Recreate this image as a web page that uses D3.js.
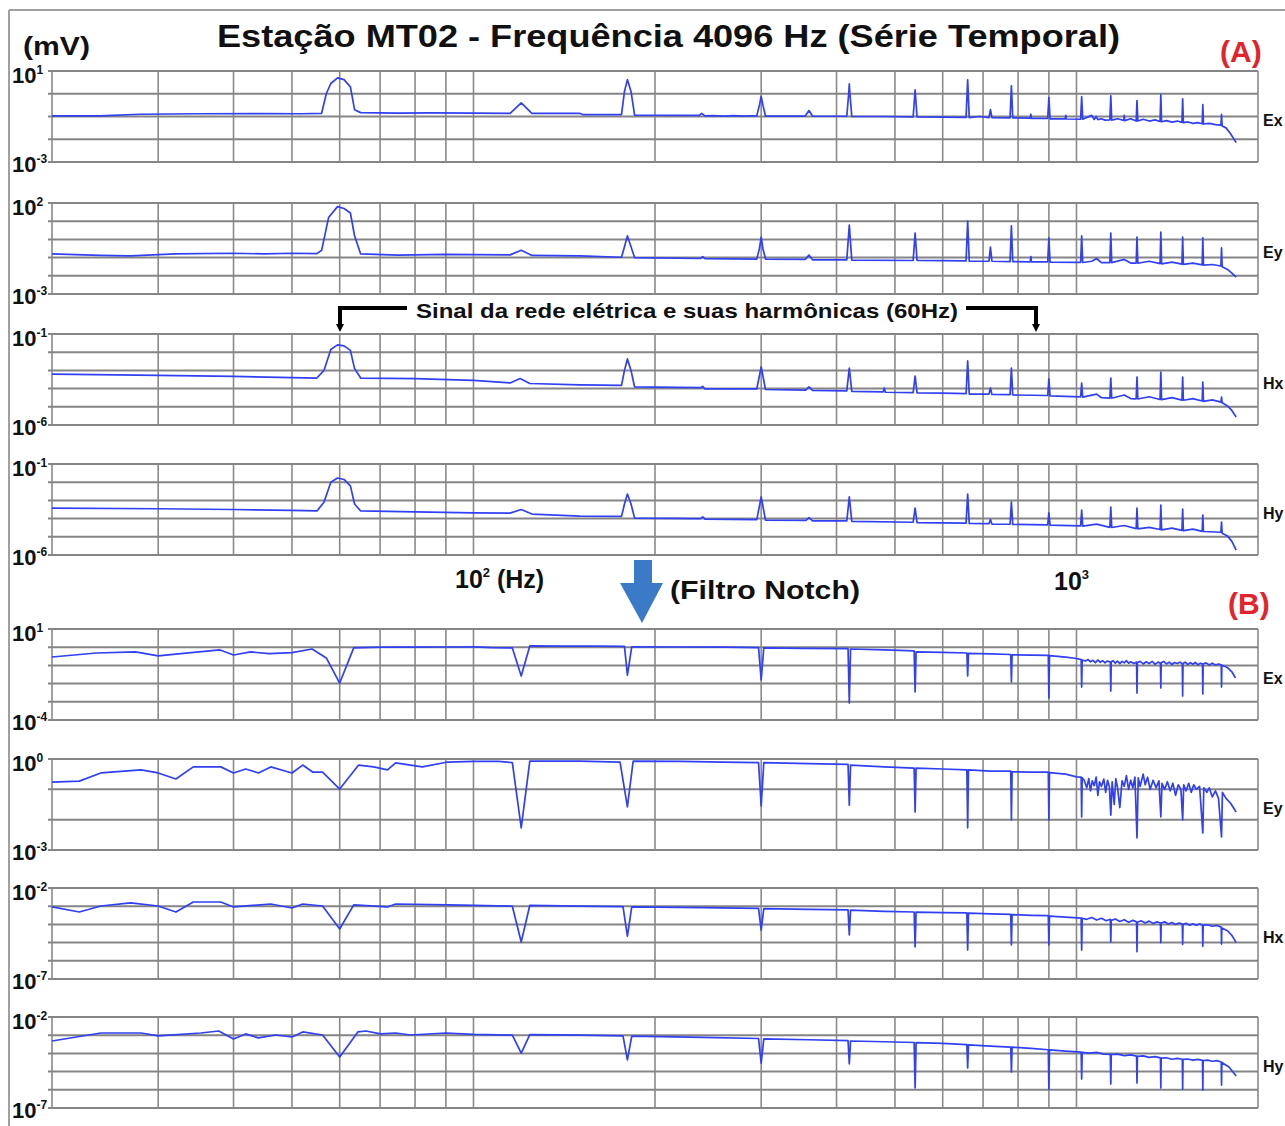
<!DOCTYPE html>
<html lang="pt">
<head>
<meta charset="UTF-8">
<title>Estação MT02 - Frequência 4096 Hz</title>
<script src="https://d3js.org/d3.v7.min.js"></script>
<style>
  body { margin: 0; background: #fff; }
  svg { display: block; font-family: "Liberation Sans", Arial, sans-serif; }
  .grid-h { stroke: #858585; stroke-width: 2; }
  .grid-v { stroke: #8a8a8a; stroke-width: 1.6; }
  .spec { fill: none; stroke: #3040f2; stroke-width: 1.7; stroke-linejoin: round; }
  .lbl { font-weight: bold; fill: #111; }
</style>
</head>
<body>
<svg width="1285" height="1126"></svg>
<script>
// grid frequencies (Hz) and axis range
const freqRange = [20, 2000];
const gridFreqs = [30, 40, 50, 60, 70, 80, 90, 100, 200, 300, 400, 500, 600, 700, 800, 900, 1000];

// spectra: [frequency Hz, log10 amplitude]
// (A) raw series
const exA = [[20,-0.97],[24,-0.97],[28,-0.90],[35,-0.88],[45,-0.87],[52,-0.88],[56,-0.86],[57,0.0],[58,0.45],[59.5,0.70],[61,0.62],[62.5,0.30],[63.5,-0.70],[65,-0.83],[75,-0.85],[85,-0.84],[100,-0.85],[115,-0.86],[120,-0.40],[125,-0.86],[150,-0.86],[152,-0.92],[176,-0.92],[178,0.1],[180,0.62],[182.5,0.1],[185,-0.94],[237,-0.95],[239,-0.86],[242,-0.97],[250,-0.96],[260,-0.98],[270,-0.96],[280,-0.98],[295,-0.96],[298,-0.5],[300,-0.12],[302,-0.5],[305,-0.98],[355,-0.98],[360,-0.74],[365,-0.98],[416,-0.99],[419,0.0],[420,0.43],[421,0.0],[424,-1.0],[480,-1.0],[536,-1.02],[540,0.17],[544,-1.02],[600,-1.03],[656,-1.04],[660,0.61],[664,-1.05],[690,-1.0],[716,-1.05],[720,-0.70],[724,-1.05],[776,-1.06],[780,0.35],[784,-1.06],[838,-1.07],[840,-0.9],[842,-1.08],[896,-1.08],[900,-0.17],[904,-1.1],[958,-1.1],[960,-0.95],[962,-1.11],[1016,-1.12],[1020,-0.13],[1024,-1.12],[1060,-0.95],[1070,-1.13],[1078,-1.0],[1085,-1.14],[1100,-1.1],[1115,-1.16],[1136,-1.15],[1140,-0.09],[1144,-1.16],[1170,-1.1],[1198,-1.17],[1200,-0.95],[1202,-1.18],[1230,-1.1],[1256,-1.2],[1260,-0.30],[1264,-1.2],[1290,-1.12],[1320,-1.2],[1350,-1.15],[1376,-1.22],[1380,-0.04],[1384,-1.23],[1410,-1.18],[1440,-1.25],[1470,-1.2],[1496,-1.26],[1500,-0.22],[1504,-1.27],[1530,-1.24],[1560,-1.3],[1590,-1.27],[1616,-1.32],[1620,-0.48],[1624,-1.33],[1660,-1.3],[1700,-1.36],[1736,-1.38],[1740,-0.91],[1744,-1.42],[1770,-1.5],[1800,-1.75],[1840,-2.15]];
const eyA = [[20,-0.80],[24,-0.88],[27,-0.91],[32,-0.80],[40,-0.76],[45,-0.80],[50,-0.76],[55,-0.78],[56,-0.6],[57.5,1.2],[59.5,1.80],[61,1.7],[62.5,1.45],[63.5,0.2],[65,-0.80],[75,-0.86],[90,-0.82],[100,-0.84],[115,-0.85],[120,-0.60],[125,-0.88],[150,-0.9],[176,-0.98],[178,-0.4],[180,0.19],[182.5,-0.4],[185,-1.0],[238,-1.05],[240,-0.95],[242,-1.06],[295,-1.08],[298,-0.5],[300,0.13],[302,-0.5],[305,-1.08],[355,-1.1],[360,-0.86],[365,-1.12],[416,-1.13],[420,0.79],[424,-1.14],[536,-1.16],[540,0.35],[544,-1.16],[600,-1.17],[656,-1.18],[660,1.01],[664,-1.2],[716,-1.2],[720,-0.42],[724,-1.2],[776,-1.22],[780,0.74],[784,-1.22],[838,-1.23],[840,-0.95],[842,-1.24],[896,-1.24],[900,0.08],[904,-1.25],[1016,-1.26],[1020,0.19],[1024,-1.27],[1060,-1.2],[1080,-1.05],[1100,-1.28],[1136,-1.28],[1140,0.35],[1144,-1.28],[1200,-1.1],[1230,-1.3],[1256,-1.3],[1260,0.13],[1264,-1.31],[1320,-1.2],[1376,-1.33],[1380,0.40],[1384,-1.34],[1440,-1.25],[1496,-1.36],[1500,0.13],[1504,-1.37],[1560,-1.3],[1616,-1.40],[1620,0.08],[1624,-1.41],[1680,-1.38],[1736,-1.46],[1740,-0.47],[1744,-1.5],[1780,-1.65],[1810,-1.85],[1840,-2.07]];
const hxA = [[20,-3.2],[30,-3.27],[40,-3.33],[50,-3.40],[55,-3.42],[56.5,-3.0],[58,-1.85],[59.5,-1.60],[61,-1.65],[62.5,-1.9],[63.5,-2.9],[65,-3.42],[80,-3.45],[100,-3.55],[115,-3.69],[119.5,-3.45],[124,-3.72],[150,-3.80],[176,-3.82],[178,-3.0],[180,-2.37],[182.5,-3.0],[185,-3.91],[238,-3.95],[240,-3.88],[242,-4.02],[295,-4.02],[300,-2.81],[305,-4.05],[356,-4.08],[360,-3.90],[365,-4.10],[416,-4.12],[420,-2.87],[424,-4.15],[478,-4.18],[480,-3.97],[482,-4.2],[536,-4.22],[540,-3.31],[544,-4.23],[600,-4.25],[656,-4.28],[660,-2.48],[664,-4.3],[716,-4.3],[720,-3.97],[724,-4.32],[776,-4.33],[780,-2.87],[784,-4.35],[896,-4.38],[900,-3.47],[904,-4.4],[1016,-4.45],[1020,-3.7],[1024,-4.47],[1080,-4.3],[1100,-4.5],[1136,-4.52],[1140,-3.42],[1144,-4.53],[1200,-4.35],[1230,-4.55],[1256,-4.56],[1260,-3.37],[1264,-4.57],[1320,-4.45],[1376,-4.6],[1380,-3.1],[1384,-4.61],[1440,-4.5],[1496,-4.63],[1500,-3.37],[1504,-4.64],[1560,-4.55],[1616,-4.68],[1620,-3.64],[1624,-4.7],[1680,-4.62],[1736,-4.74],[1740,-4.47],[1744,-4.78],[1780,-4.95],[1810,-5.2],[1840,-5.56]];
const hyA = [[20,-3.42],[30,-3.46],[40,-3.50],[50,-3.55],[55,-3.58],[56.5,-3.1],[58,-2.0],[59.5,-1.77],[61,-1.85],[62.5,-2.2],[63.5,-3.2],[65,-3.58],[80,-3.63],[100,-3.69],[115,-3.70],[120,-3.50],[125,-3.75],[150,-3.86],[176,-3.88],[178,-3.2],[180,-2.65],[182.5,-3.2],[185,-3.97],[238,-4.0],[240,-3.9],[242,-4.03],[295,-4.06],[300,-2.81],[305,-4.08],[356,-4.1],[360,-3.95],[365,-4.12],[416,-4.13],[420,-2.81],[424,-4.15],[536,-4.2],[540,-3.42],[544,-4.22],[656,-4.25],[660,-2.65],[664,-4.27],[716,-4.28],[720,-4.05],[724,-4.3],[776,-4.31],[780,-3.09],[784,-4.32],[896,-4.34],[900,-3.69],[904,-4.36],[1016,-4.4],[1020,-3.53],[1024,-4.41],[1080,-4.3],[1136,-4.48],[1140,-3.37],[1144,-4.49],[1200,-4.38],[1256,-4.55],[1260,-3.42],[1264,-4.56],[1320,-4.48],[1376,-4.6],[1380,-3.26],[1384,-4.62],[1440,-4.52],[1496,-4.65],[1500,-3.48],[1504,-4.66],[1560,-4.58],[1616,-4.7],[1620,-3.81],[1624,-4.71],[1736,-4.75],[1740,-4.19],[1744,-4.8],[1780,-4.95],[1810,-5.25],[1840,-5.73]];

// (B) after notch filter
const exB = [[20,-0.54],[23.7,-0.32],[27.5,-0.26],[30,-0.48],[34,-0.30],[38,-0.15],[40,-0.43],[42.7,-0.26],[45.8,-0.35],[50,-0.30],[54,-0.10],[57,-0.59],[60,-1.97],[63.3,-0.04],[68,-0.01],[73.7,0.01],[80,0.0],[90,0.01],[100,0.02],[107,-0.02],[116,-0.04],[120,-1.58],[124,0.07],[140,0.06],[160,0.06],[178,0.05],[180,-1.53],[183,0.02],[220,0.01],[260,0.0],[297,-0.02],[300,-1.80],[303,-0.04],[350,-0.06],[418,-0.08],[420,-3.07],[422,-0.10],[480,-0.15],[538,-0.20],[540,-2.46],[542,-0.26],[600,-0.28],[658,-0.32],[660,-1.58],[662,-0.34],[720,-0.37],[778,-0.40],[780,-1.91],[782,-0.42],[840,-0.43],[898,-0.45],[900,-2.79],[902,-0.46],[960,-0.55],[1000,-0.62],[1018,-0.68],[1020,-2.19],[1022,-0.70],[1035,-0.76],[1045,-0.68],[1055,-0.80],[1065,-0.72],[1075,-0.85],[1085,-0.70],[1095,-0.83],[1105,-0.74],[1115,-0.86],[1125,-0.76],[1138,-0.82],[1140,-2.41],[1142,-0.80],[1150,-0.74],[1160,-0.88],[1170,-0.76],[1180,-0.90],[1190,-0.78],[1200,-0.86],[1210,-0.74],[1220,-0.88],[1230,-0.80],[1245,-0.9],[1258,-0.82],[1260,-2.52],[1262,-0.84],[1275,-0.78],[1290,-0.92],[1305,-0.80],[1320,-0.9],[1335,-0.78],[1350,-0.94],[1365,-0.82],[1378,-0.88],[1380,-2.24],[1382,-0.86],[1395,-0.78],[1410,-0.92],[1425,-0.82],[1440,-0.95],[1455,-0.84],[1470,-0.9],[1485,-0.82],[1498,-0.92],[1500,-2.68],[1502,-0.9],[1515,-0.82],[1530,-0.96],[1545,-0.85],[1560,-0.94],[1575,-0.84],[1590,-0.97],[1605,-0.88],[1618,-0.92],[1620,-2.57],[1622,-0.92],[1640,-0.86],[1660,-0.98],[1680,-0.88],[1700,-0.98],[1720,-0.92],[1738,-0.97],[1740,-2.19],[1742,-1.0],[1760,-1.05],[1780,-1.12],[1810,-1.35],[1835,-1.69]];
const eyB = [[20,-0.76],[22.2,-0.73],[24.1,-0.46],[28.1,-0.36],[30,-0.46],[32.1,-0.66],[34.3,-0.26],[38.1,-0.26],[40,-0.46],[41.9,-0.33],[44,-0.46],[46.1,-0.26],[50,-0.46],[52.1,-0.20],[54.1,-0.43],[56.2,-0.43],[60,-0.99],[64.5,-0.20],[68.3,-0.26],[72,-0.36],[74.3,-0.13],[78.6,-0.20],[82.3,-0.26],[90.6,-0.10],[100,-0.08],[110,-0.08],[116,-0.12],[120,-2.27],[124,-0.07],[150,-0.07],[175,-0.10],[180,-1.58],[184,-0.07],[220,-0.08],[260,-0.1],[297,-0.12],[300,-1.55],[303,-0.12],[360,-0.15],[418,-0.18],[420,-1.52],[422,-0.2],[480,-0.26],[538,-0.3],[540,-1.75],[542,-0.3],[600,-0.33],[658,-0.36],[660,-2.27],[662,-0.36],[720,-0.40],[778,-0.4],[780,-2.01],[782,-0.42],[840,-0.43],[898,-0.43],[900,-2.01],[902,-0.45],[960,-0.5],[1000,-0.59],[1018,-0.6],[1020,-1.91],[1022,-0.62],[1030,-0.70],[1040,-0.95],[1048,-0.65],[1055,-1.05],[1062,-0.72],[1070,-0.88],[1078,-0.60],[1085,-1.2],[1092,-0.75],[1100,-0.9],[1110,-0.66],[1118,-1.1],[1126,-0.70],[1134,-0.92],[1140,-1.85],[1146,-0.75],[1155,-1.5],[1162,-0.65],[1170,-0.95],[1180,-1.6],[1190,-0.72],[1200,-0.9],[1210,-0.55],[1220,-1.0],[1230,-0.7],[1240,-0.95],[1250,-0.6],[1260,-2.6],[1266,-0.62],[1275,-0.9],[1290,-0.5],[1300,-0.85],[1312,-0.6],[1325,-1.0],[1340,-0.7],[1355,-0.95],[1370,-0.72],[1380,-1.91],[1386,-0.8],[1400,-1.0],[1415,-0.75],[1430,-1.05],[1445,-0.8],[1460,-1.2],[1475,-0.85],[1490,-1.0],[1500,-2.01],[1506,-0.85],[1520,-1.05],[1535,-0.8],[1550,-1.1],[1565,-0.85],[1580,-1.0],[1600,-0.9],[1620,-2.44],[1626,-0.95],[1645,-1.1],[1660,-0.95],[1680,-1.25],[1700,-1.05],[1720,-1.3],[1740,-2.57],[1746,-1.1],[1770,-1.3],[1800,-1.45],[1820,-1.6],[1840,-1.75]];
const hxB = [[20,-3.04],[22.2,-3.32],[24.1,-2.99],[27,-2.82],[30,-2.99],[32.1,-3.32],[34.3,-2.77],[38.1,-2.77],[40,-3.04],[46.1,-2.88],[50,-3.10],[52.1,-2.88],[56.2,-2.99],[60,-4.25],[63.3,-2.93],[72,-3.04],[74.3,-2.88],[90.6,-2.93],[100,-2.95],[116,-3.0],[120,-4.97],[124,-2.95],[150,-3.0],[177,-3.02],[180,-4.64],[183,-3.04],[240,-3.08],[297,-3.12],[300,-4.31],[303,-3.13],[360,-3.17],[418,-3.2],[420,-4.58],[422,-3.22],[480,-3.28],[538,-3.32],[540,-5.24],[542,-3.33],[600,-3.35],[658,-3.37],[660,-5.41],[662,-3.38],[720,-3.42],[778,-3.45],[780,-5.13],[782,-3.46],[840,-3.5],[898,-3.52],[900,-5.13],[902,-3.54],[960,-3.6],[1018,-3.65],[1020,-5.41],[1022,-3.66],[1040,-3.72],[1060,-3.62],[1080,-3.76],[1100,-3.66],[1120,-3.8],[1138,-3.72],[1140,-4.97],[1142,-3.78],[1160,-3.7],[1180,-3.84],[1200,-3.74],[1220,-3.88],[1240,-3.78],[1258,-3.86],[1260,-5.5],[1262,-3.88],[1280,-3.8],[1300,-3.92],[1320,-3.82],[1340,-3.95],[1360,-3.86],[1378,-3.92],[1380,-5.0],[1382,-3.92],[1400,-3.86],[1420,-3.98],[1440,-3.9],[1460,-4.0],[1480,-3.92],[1498,-3.98],[1500,-5.1],[1502,-4.0],[1520,-3.94],[1540,-4.04],[1560,-3.96],[1580,-4.05],[1600,-3.98],[1618,-4.04],[1620,-5.2],[1622,-4.05],[1650,-4.02],[1680,-4.1],[1710,-4.06],[1738,-4.15],[1740,-5.08],[1742,-4.2],[1780,-4.35],[1810,-4.6],[1840,-5.0]];
const hyB = [[20,-3.32],[24.1,-2.88],[28.1,-2.88],[30,-3.04],[35.3,-2.88],[37.8,-2.77],[40,-3.21],[41.9,-2.93],[44,-3.15],[47,-2.99],[50,-3.10],[52.1,-2.82],[56.2,-2.99],[60,-4.20],[64.3,-2.82],[66.3,-2.77],[70.1,-2.93],[74.3,-2.88],[78.6,-2.99],[90,-2.88],[100,-2.95],[116,-3.0],[120,-3.98],[124,-2.97],[150,-3.0],[177,-3.04],[180,-4.36],[183,-3.05],[240,-3.12],[297,-3.18],[300,-4.53],[303,-3.2],[360,-3.25],[418,-3.3],[420,-4.58],[422,-3.32],[480,-3.36],[538,-3.4],[540,-5.90],[542,-3.41],[600,-3.45],[658,-3.52],[660,-4.80],[662,-3.53],[720,-3.6],[778,-3.65],[780,-5.02],[782,-3.66],[840,-3.72],[898,-3.8],[900,-5.96],[902,-3.81],[960,-3.87],[1018,-3.93],[1020,-5.41],[1022,-3.94],[1050,-3.98],[1080,-3.94],[1110,-4.04],[1138,-4.05],[1140,-5.68],[1142,-4.06],[1170,-4.04],[1200,-4.12],[1230,-4.08],[1258,-4.15],[1260,-5.63],[1262,-4.16],[1290,-4.14],[1320,-4.22],[1350,-4.18],[1378,-4.25],[1380,-5.90],[1382,-4.26],[1410,-4.24],[1440,-4.32],[1470,-4.27],[1498,-4.32],[1500,-5.96],[1502,-4.33],[1530,-4.31],[1560,-4.37],[1590,-4.33],[1618,-4.38],[1620,-6.01],[1622,-4.39],[1650,-4.37],[1680,-4.43],[1710,-4.4],[1738,-4.47],[1740,-5.74],[1742,-4.5],[1790,-4.75],[1840,-5.24]];

// panel definitions: channel, decade range (top, bottom exponent), series
const channels = ["Ex", "Ey", "Hx", "Hy", "Ex", "Ey", "Hx", "Hy"];
const decadeTop = [1, 2, -1, -1, 1, 0, -2, -2];
const decadeBottom = [-3, -3, -6, -6, -4, -3, -7, -7];
const series = [exA, eyA, hxA, hyA, exB, eyB, hxB, hyB];

const panelTops = [71, 203, 334, 464, 629, 759, 888, 1017];
const panelH = 91;
const left = 52, right = 1258;

const svg = d3.select("svg");

// outer frame
svg.append("line").attr("x1", 9).attr("y1", 10).attr("x2", 1285).attr("y2", 10)
  .attr("stroke", "#a0a0a0").attr("stroke-width", 2);
svg.append("line").attr("x1", 9).attr("y1", 10).attr("x2", 9).attr("y2", 1126)
  .attr("stroke", "#a0a0a0").attr("stroke-width", 2);

const x = d3.scaleLog().domain(freqRange).range([left, right]);

channels.forEach((ch, i) => {
  const top = panelTops[i];
  const y = d3.scaleLog()
    .domain([Math.pow(10, decadeBottom[i]), Math.pow(10, decadeTop[i])])
    .range([top + panelH, top]);
  const g = svg.append("g");

  // vertical grid
  g.selectAll(".grid-v").data([freqRange[0], ...gridFreqs, freqRange[1]]).enter()
    .append("line").attr("class", "grid-v")
    .attr("x1", d => x(d)).attr("x2", d => x(d))
    .attr("y1", top).attr("y2", top + panelH);

  // horizontal grid, one per decade
  const decs = d3.range(decadeBottom[i], decadeTop[i] + 1);
  g.selectAll(".grid-h").data(decs).enter()
    .append("line").attr("class", "grid-h")
    .attr("x1", left - 4).attr("x2", right)
    .attr("y1", d => y(Math.pow(10, d))).attr("y2", d => y(Math.pow(10, d)));

  // spectrum
  const line = d3.line()
    .x(d => x(d[0]))
    .y(d => y(Math.pow(10, d[1])));
  g.append("path").datum(series[i]).attr("class", "spec").attr("d", line);

  // decade labels at top and bottom of panel
  [[decadeTop[i], top + 12], [decadeBottom[i], top + panelH + 10]].forEach(([e, yy]) => {
    const t = g.append("text").attr("class", "lbl").attr("x", 12).attr("y", yy)
      .attr("font-size", 22);
    t.append("tspan").text("10");
    t.append("tspan").attr("font-size", 12).attr("dy", -9).text(e);
  });

  // channel name
  g.append("text").attr("class", "lbl").attr("x", 1263).attr("y", top + 55)
    .attr("font-size", 16).text(ch);
});

// titles and annotations
svg.append("text").attr("class", "lbl").attr("x", 217).attr("y", 47)
  .attr("font-size", 31).attr("textLength", 903).attr("lengthAdjust", "spacingAndGlyphs")
  .text("Estação MT02 - Frequência 4096 Hz (Série Temporal)");
svg.append("text").attr("class", "lbl").attr("x", 23).attr("y", 55)
  .attr("font-size", 26).attr("textLength", 67).attr("lengthAdjust", "spacingAndGlyphs")
  .text("(mV)");
svg.append("text").attr("class", "lbl").attr("x", 1220).attr("y", 62)
  .attr("font-size", 30).style("fill", "#e3232c").text("(A)");
svg.append("text").attr("class", "lbl").attr("x", 1228).attr("y", 614)
  .attr("font-size", 30).style("fill", "#e3232c").text("(B)");

// mains-signal bracket
svg.append("path").attr("d", "M340,326V308H407M966,308H1036V326")
  .attr("fill", "none").attr("stroke", "#000").attr("stroke-width", 4);
svg.selectAll(".tip").data([340, 1036]).enter().append("path")
  .attr("d", d => `M${d - 4},324L${d + 4},324L${d},332Z`).attr("fill", "#000");
svg.append("text").attr("class", "lbl").attr("x", 416).attr("y", 318)
  .attr("font-size", 21).attr("textLength", 542).attr("lengthAdjust", "spacingAndGlyphs")
  .text("Sinal da rede elétrica e suas harmônicas (60Hz)");

// frequency labels
const hz = svg.append("text").attr("class", "lbl").attr("x", 455).attr("y", 588).attr("font-size", 25);
hz.append("tspan").text("10");
hz.append("tspan").attr("font-size", 13).attr("dy", -11).text("2");
hz.append("tspan").attr("dy", 11).text(" (Hz)");
const k3 = svg.append("text").attr("class", "lbl").attr("x", 1054).attr("y", 590).attr("font-size", 25);
k3.append("tspan").text("10");
k3.append("tspan").attr("font-size", 13).attr("dy", -11).text("3");

// notch filter arrow
svg.append("path").attr("d", "M634,560H652V583H663L642,623L620,583H634Z").attr("fill", "#3b7ac6");
svg.append("text").attr("class", "lbl").attr("x", 670).attr("y", 599)
  .attr("font-size", 26).attr("textLength", 190).attr("lengthAdjust", "spacingAndGlyphs")
  .text("(Filtro Notch)");
</script>
</body>
</html>
